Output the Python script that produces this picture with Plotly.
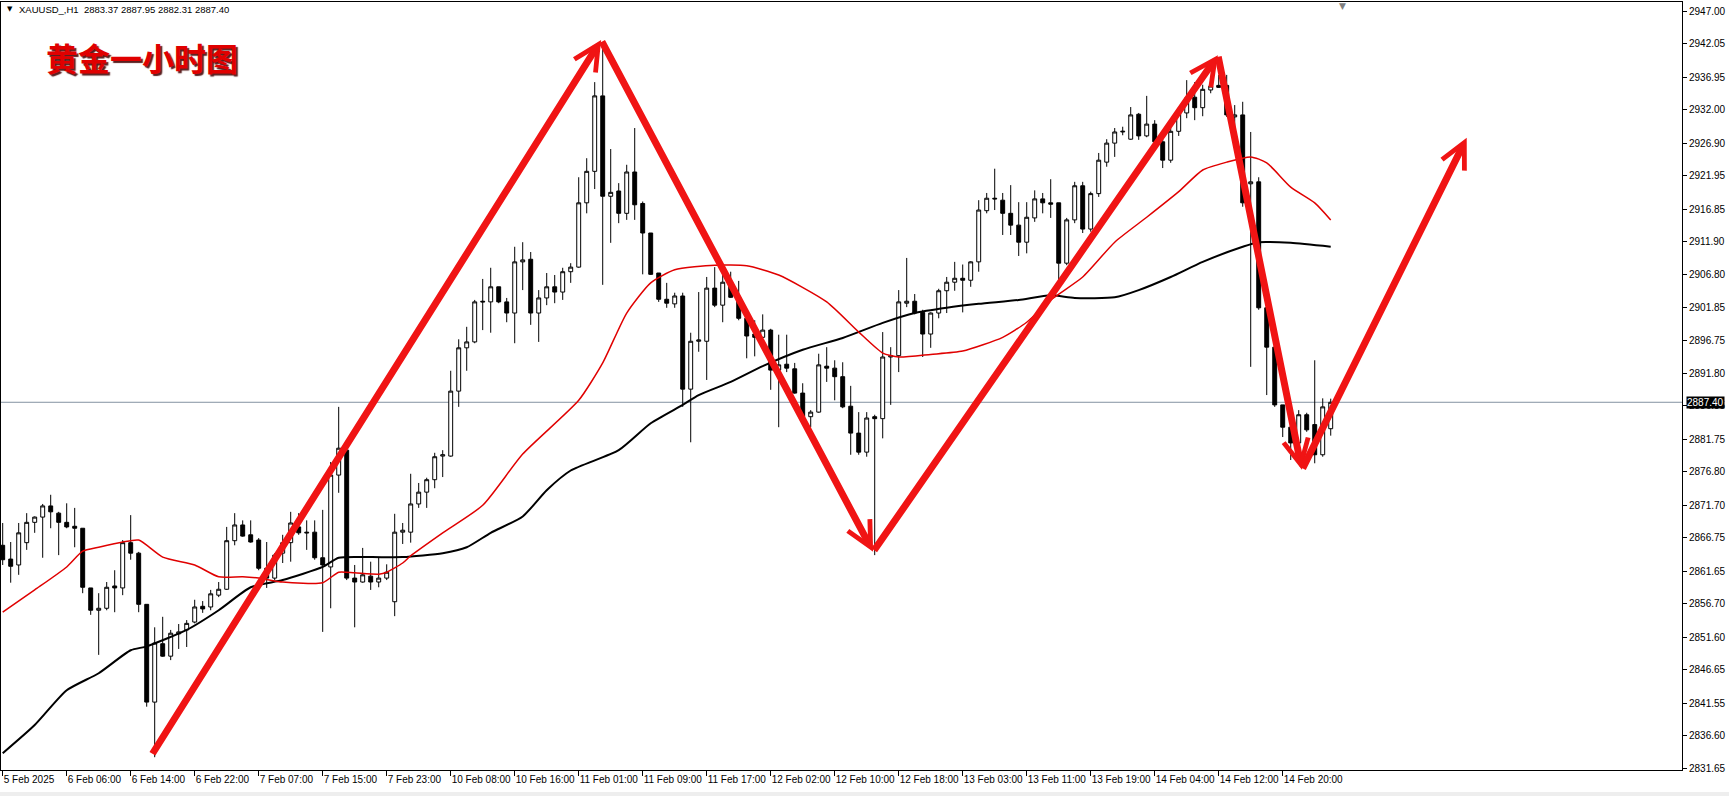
import plotly.graph_objects as go

# ---------------- data ----------------
open_ = [
    2865.6, 2863.5, 2862.6, 2866.0, 2869.1, 2869.9, 2871.6, 2870.5, 2869.1, 2868.5,
    2868.2, 2859.1, 2855.7, 2856.0, 2859.4, 2859.1, 2866.0, 2864.4, 2856.6, 2841.7,
    2850.6, 2848.7, 2852.1, 2852.7, 2853.9, 2856.3, 2856.2, 2858.0, 2858.9, 2866.3,
    2868.7, 2867.2, 2866.4, 2862.1, 2860.6, 2864.4, 2866.0, 2868.4, 2867.6, 2867.6,
    2863.7, 2862.3, 2876.3, 2880.1, 2860.6, 2860.0, 2860.9, 2860.0, 2860.6, 2857.0,
    2867.6, 2867.6, 2871.9, 2873.7, 2875.6, 2879.2, 2879.2, 2889.1, 2895.7, 2896.6,
    2902.8, 2902.7, 2905.0, 2902.7, 2901.0, 2908.8, 2909.2, 2901.0, 2903.3, 2905.0,
    2904.2, 2907.3, 2908.0, 2917.8, 2922.6, 2934.1, 2918.8, 2919.6, 2916.2, 2922.5,
    2917.7, 2913.2, 2907.1, 2903.1, 2902.4, 2903.6, 2889.4, 2896.7, 2896.7, 2904.8,
    2902.2, 2905.7, 2903.4, 2900.2, 2897.8, 2897.3, 2898.4, 2892.3, 2893.2, 2892.5,
    2888.8, 2885.2, 2885.9, 2892.9, 2892.6, 2891.3, 2886.8, 2882.7, 2879.8, 2885.2,
    2884.9, 2894.3, 2894.5, 2902.5, 2902.8, 2901.1, 2897.8, 2901.0, 2904.4, 2905.7,
    2906.3, 2906.0, 2908.8, 2916.6, 2918.5, 2918.2, 2916.2, 2914.4, 2911.8, 2915.5,
    2918.4, 2917.8, 2917.8, 2908.6, 2915.2, 2920.4, 2913.8, 2919.2, 2924.0, 2926.9,
    2928.6, 2927.5, 2931.3, 2928.0, 2929.8, 2927.1, 2924.3, 2928.7, 2931.5, 2933.9,
    2932.3, 2935.0, 2935.7, 2935.7, 2930.9, 2931.2, 2920.7, 2921.0, 2901.8, 2895.8,
    2887.0, 2883.6, 2881.2, 2885.5, 2884.0, 2879.4, 2883.37]

high = [
    2869.0, 2866.1, 2869.0, 2870.5, 2870.0, 2871.9, 2873.3, 2870.7, 2872.0, 2871.3,
    2868.2, 2859.1, 2858.3, 2860.0, 2861.8, 2866.4, 2870.2, 2864.6, 2856.6, 2853.1,
    2854.7, 2852.7, 2853.6, 2854.2, 2857.3, 2857.1, 2858.8, 2860.0, 2868.4, 2870.5,
    2869.4, 2869.4, 2866.7, 2866.1, 2864.4, 2867.2, 2870.7, 2870.5, 2869.4, 2869.4,
    2871.0, 2878.3, 2886.7, 2880.1, 2862.6, 2865.2, 2863.1, 2863.7, 2862.7, 2870.4,
    2869.0, 2876.5, 2875.1, 2875.9, 2879.7, 2880.1, 2892.2, 2897.0, 2898.9, 2903.0,
    2906.2, 2907.9, 2905.0, 2903.3, 2911.1, 2911.8, 2910.3, 2904.5, 2907.1, 2906.8,
    2907.9, 2908.6, 2921.7, 2924.6, 2936.2, 2941.9, 2926.0, 2920.8, 2923.6, 2929.2,
    2918.0, 2913.2, 2907.1, 2905.6, 2904.1, 2904.1, 2898.0, 2904.2, 2906.5, 2908.0,
    2907.1, 2907.3, 2905.9, 2901.0, 2899.9, 2900.8, 2898.6, 2897.7, 2897.7, 2893.4,
    2890.3, 2886.2, 2894.8, 2895.8, 2893.8, 2893.5, 2889.9, 2885.9, 2885.9, 2885.5,
    2898.1, 2895.8, 2904.5, 2909.4, 2903.9, 2901.5, 2901.1, 2904.7, 2906.5, 2908.8,
    2908.4, 2908.9, 2918.2, 2919.3, 2923.0, 2919.3, 2920.5, 2917.9, 2917.9, 2919.7,
    2919.3, 2921.4, 2917.8, 2915.5, 2921.0, 2921.0, 2919.5, 2925.4, 2927.5, 2929.2,
    2929.4, 2932.4, 2931.5, 2934.1, 2930.4, 2927.7, 2930.4, 2931.9, 2936.5, 2936.2,
    2935.8, 2936.2, 2937.3, 2937.3, 2932.7, 2933.2, 2928.6, 2921.7, 2901.8, 2895.8,
    2887.0, 2883.6, 2886.2, 2885.8, 2893.8, 2888.0, 2887.95]

low = [
    2862.6, 2859.9, 2861.1, 2864.9, 2867.5, 2863.7, 2868.2, 2864.1, 2868.2, 2865.3,
    2858.3, 2855.0, 2848.9, 2855.7, 2855.4, 2858.0, 2863.4, 2855.4, 2841.0, 2833.3,
    2848.6, 2848.1, 2849.8, 2850.1, 2853.7, 2855.3, 2855.7, 2857.7, 2858.8, 2865.6,
    2866.9, 2866.0, 2861.8, 2859.1, 2860.3, 2862.9, 2863.1, 2867.2, 2864.9, 2863.4,
    2852.4, 2856.0, 2873.6, 2860.3, 2853.1, 2859.9, 2858.8, 2859.2, 2860.3, 2854.8,
    2865.8, 2866.0, 2871.3, 2871.3, 2874.3, 2876.0, 2879.1, 2886.7, 2892.2, 2896.4,
    2898.4, 2898.0, 2902.5, 2899.6, 2896.4, 2904.5, 2899.2, 2896.6, 2902.2, 2902.5,
    2903.0, 2905.6, 2907.9, 2916.2, 2919.9, 2905.3, 2911.7, 2914.7, 2915.2, 2915.2,
    2906.9, 2906.8, 2902.7, 2901.8, 2901.8, 2886.7, 2881.3, 2895.1, 2890.8, 2901.9,
    2899.6, 2903.3, 2899.9, 2894.1, 2894.4, 2897.2, 2889.3, 2883.6, 2892.0, 2888.7,
    2885.0, 2883.6, 2885.8, 2890.5, 2887.7, 2886.5, 2879.4, 2879.4, 2879.1, 2864.1,
    2881.9, 2887.0, 2892.0, 2901.9, 2900.8, 2894.3, 2895.7, 2900.2, 2901.0, 2904.4,
    2901.1, 2905.0, 2907.3, 2916.2, 2916.7, 2912.9, 2912.9, 2909.7, 2910.1, 2914.9,
    2916.2, 2915.5, 2906.0, 2908.3, 2914.7, 2913.2, 2913.4, 2918.7, 2923.3, 2924.8,
    2928.1, 2927.4, 2927.4, 2927.8, 2926.9, 2923.1, 2923.9, 2928.0, 2930.7, 2930.4,
    2931.0, 2934.5, 2935.3, 2930.9, 2928.9, 2917.2, 2892.8, 2901.5, 2888.5, 2886.7,
    2882.1, 2878.6, 2879.7, 2882.9, 2878.1, 2879.1, 2882.31]

close = [
    2863.4, 2862.4, 2867.5, 2869.1, 2869.9, 2871.6, 2870.7, 2869.1, 2868.4, 2868.2,
    2859.2, 2855.7, 2856.0, 2859.2, 2859.1, 2866.0, 2864.4, 2856.6, 2841.7, 2850.7,
    2848.7, 2852.2, 2852.4, 2853.7, 2856.2, 2855.9, 2858.2, 2858.9, 2866.3, 2868.7,
    2867.0, 2866.1, 2862.1, 2860.6, 2864.1, 2866.0, 2869.0, 2867.5, 2867.5, 2863.7,
    2862.6, 2876.3, 2880.4, 2860.6, 2860.0, 2861.1, 2860.0, 2860.6, 2861.5, 2867.6,
    2867.9, 2871.9, 2873.7, 2875.6, 2879.1, 2879.4, 2889.1, 2895.7, 2896.6, 2902.7,
    2902.7, 2905.0, 2902.7, 2901.0, 2908.8, 2909.1, 2901.0, 2903.3, 2905.0, 2904.2,
    2907.3, 2908.0, 2917.8, 2922.6, 2934.1, 2918.8, 2919.4, 2916.2, 2922.5, 2917.5,
    2913.2, 2906.9, 2903.1, 2902.5, 2903.6, 2889.4, 2896.7, 2896.9, 2904.8, 2902.2,
    2905.7, 2903.4, 2900.2, 2897.5, 2897.3, 2898.4, 2892.3, 2893.1, 2892.6, 2888.8,
    2885.2, 2885.9, 2893.1, 2892.6, 2891.3, 2886.7, 2882.7, 2879.8, 2885.0, 2884.9,
    2894.3, 2894.5, 2902.7, 2902.8, 2901.0, 2897.8, 2901.0, 2904.4, 2905.7, 2906.3,
    2906.0, 2908.8, 2916.7, 2918.5, 2918.4, 2916.2, 2914.4, 2911.8, 2915.6, 2918.4,
    2917.8, 2917.6, 2908.6, 2915.2, 2920.4, 2913.8, 2919.2, 2924.3, 2926.9, 2928.6,
    2928.7, 2931.2, 2928.0, 2929.8, 2927.1, 2924.3, 2928.7, 2931.6, 2933.8, 2932.3,
    2935.1, 2935.6, 2935.4, 2931.2, 2931.2, 2917.8, 2921.0, 2901.8, 2895.8, 2887.0,
    2883.6, 2881.2, 2885.5, 2883.2, 2879.4, 2886.7, 2887.40]

bars = list(range(len(close)))

# moving averages (values read at selected bars)
red_ma_bars = [0, 4, 8, 10, 12, 15, 17, 20, 24, 27, 30, 32, 35, 40, 42, 44, 47, 48, 50, 51,
               55, 60, 65, 72, 75, 78, 81, 84, 89, 93, 97, 103, 107, 110, 112, 116, 120, 125,
               128, 131, 135, 139, 143, 147, 150, 153, 156, 158, 161, 164, 166]
red_ma = [2855.4, 2858.8, 2862.3, 2864.7, 2865.3, 2866.1, 2866.4, 2863.8, 2862.6, 2860.8,
          2860.8, 2860.6, 2860.0, 2859.9, 2861.5, 2861.4, 2861.2, 2861.5, 2862.9, 2864.0,
          2867.5, 2871.7, 2879.5, 2887.7, 2893.4, 2901.0, 2905.6, 2907.6, 2908.3, 2908.2,
          2906.8, 2902.7, 2898.1, 2894.9, 2894.3, 2894.7, 2895.2, 2897.3, 2899.6, 2903.0,
          2906.5, 2911.8, 2915.6, 2919.5, 2922.8, 2924.0, 2924.8, 2923.9, 2920.2, 2917.8,
          2915.2]

black_ma_bars = [0, 4, 8, 12, 16, 18, 23, 27, 31, 35, 40, 42, 46, 50, 55, 58, 61, 65, 68,
                 71, 77, 81, 85, 87, 91, 95, 100, 105, 110, 114, 118, 122, 127, 131, 134,
                 139, 142, 146, 150, 155, 157, 161, 166]
black_ma = [2833.9, 2838.2, 2843.5, 2846.1, 2849.6, 2850.2, 2852.7, 2855.7, 2859.2, 2860.3,
            2862.3, 2863.7, 2863.8, 2863.8, 2864.4, 2865.3, 2867.5, 2870.0, 2874.0, 2877.0,
            2880.1, 2884.2, 2887.0, 2888.5, 2890.5, 2892.9, 2895.4, 2897.2, 2899.5, 2901.0,
            2901.8, 2902.4, 2903.0, 2903.7, 2903.3, 2903.4, 2904.5, 2906.5, 2908.8, 2911.1,
            2911.8, 2911.7, 2911.1]

# hand-drawn zig-zag arrows (bar, price)
arrow_bars = [18.6, 74.8, 108.8, 151.9, 162.4, 183.0]
arrow_prices = [2833.6, 2942.6, 2864.6, 2940.3, 2877.1, 2927.7]

# axis ticks
x_tick_bars = [0, 8, 16, 24, 32, 40, 48, 56, 64, 72, 80, 88, 96, 104, 112, 120, 128, 136, 144, 152, 160]
x_tick_labels = ["5 Feb 2025", "6 Feb 06:00", "6 Feb 14:00", "6 Feb 22:00", "7 Feb 07:00",
                 "7 Feb 15:00", "7 Feb 23:00", "10 Feb 08:00", "10 Feb 16:00", "11 Feb 01:00",
                 "11 Feb 09:00", "11 Feb 17:00", "12 Feb 02:00", "12 Feb 10:00", "12 Feb 18:00",
                 "13 Feb 03:00", "13 Feb 11:00", "13 Feb 19:00", "14 Feb 04:00", "14 Feb 12:00",
                 "14 Feb 20:00"]
y_ticks = [2947.00, 2942.05, 2936.95, 2932.00, 2926.90, 2921.95, 2916.85, 2911.90, 2906.80,
           2901.85, 2896.75, 2891.80, 2886.85, 2881.75, 2876.80, 2871.70, 2866.75, 2861.65,
           2856.70, 2851.60, 2846.65, 2841.55, 2836.60, 2831.65]

symbol = "XAUUSD_,H1"
title_cn = "黄金一小时图"
shift_marker_bar = 167.5

# ---------------- figure ----------------
FONT = "Liberation Sans, Arial, sans-serif"
fig = go.Figure()

fig.add_trace(go.Scatter(x=black_ma_bars, y=black_ma, mode="lines",
                         line=dict(color="black", width=2, shape="spline", smoothing=0.6),
                         hoverinfo="skip", showlegend=False))
fig.add_trace(go.Scatter(x=red_ma_bars, y=red_ma, mode="lines",
                         line=dict(color="#e00000", width=1.5, shape="spline", smoothing=0.6),
                         hoverinfo="skip", showlegend=False))
fig.add_trace(go.Candlestick(
    x=bars, open=open_, high=high, low=low, close=close,
    increasing=dict(line=dict(color="black", width=1), fillcolor="white"),
    decreasing=dict(line=dict(color="black", width=1), fillcolor="black"),
    whiskerwidth=0, hoverinfo="skip", showlegend=False))

# current price line
fig.add_shape(type="line", xref="paper", x0=0, x1=1, yref="y",
              y0=close[-1], y1=close[-1], line=dict(color="#8492a2", width=1), layer="below")

annotations = []
for i in range(len(arrow_bars) - 1):
    annotations.append(dict(
        x=arrow_bars[i + 1], y=arrow_prices[i + 1], ax=arrow_bars[i], ay=arrow_prices[i],
        xref="x", yref="y", axref="x", ayref="y", showarrow=True, text="",
        arrowhead=5, arrowsize=0.7, arrowwidth=7, arrowcolor="#f01414", standoff=0))

annotations += [
    dict(text=title_cn, xref="paper", yref="paper", x=0.0255, y=0.929, xanchor="left",
         yanchor="middle", showarrow=False,
         font=dict(family="Noto Sans CJK SC", size=32, color="#e00000", weight="bold",
                   shadow="2px 2px 1px #5a2020")),
    dict(text="▼", xref="paper", yref="paper", x=0.0025, y=0.9905, xanchor="left",
         yanchor="middle", showarrow=False, font=dict(family="DejaVu Sans", size=7, color="black")),
    dict(text=f"{symbol}  {open_[-1]:.2f} {high[-1]:.2f} {low[-1]:.2f} {close[-1]:.2f}",
         xref="paper", yref="paper", x=0.0095, y=0.9905, xanchor="left", yanchor="middle",
         showarrow=False, font=dict(family=FONT, size=9.5, color="black")),
    dict(text=f"{close[-1]:.2f}", xref="paper", yref="y", x=1, y=close[-1], xanchor="left",
         yanchor="middle", xshift=4, showarrow=False, bgcolor="black", borderpad=0,
         font=dict(family=FONT, size=10, color="white")),
    dict(text="▼", xref="x", yref="paper", x=shift_marker_bar, y=1.004, xanchor="center",
         yanchor="top", showarrow=False, font=dict(family="DejaVu Sans", size=9, color="#808080")),
]

# bottom grey strip
fig.add_shape(type="rect", xref="paper", yref="paper", x0=-0.01, x1=1.03,
              y0=-0.0286, y1=-0.04, fillcolor="#eeeeee", line=dict(width=0), layer="below")

fig.update_layout(
    width=1729, height=796,
    margin=dict(l=1, r=47, t=2, b=26, autoexpand=False),
    paper_bgcolor="white", plot_bgcolor="white",
    font=dict(family=FONT, size=10, color="black"),
    hovermode=False, showlegend=False,
    annotations=annotations,
    xaxis=dict(range=[-0.2125, 209.91], tickmode="array", tickvals=x_tick_bars,
               ticktext=x_tick_labels, ticks="outside", ticklen=5, tickcolor="black",
               tickangle=0, automargin=False,
               ticklabelposition="outside right", showgrid=False, zeroline=False,
               showline=True, mirror=True, linecolor="black", linewidth=1,
               rangeslider=dict(visible=False), fixedrange=True),
    yaxis=dict(side="right", range=[2831.35, 2948.41], tickmode="array", tickvals=y_ticks,
               ticktext=[f"{v:.2f}" for v in y_ticks], ticks="outside", ticklen=4,
               tickcolor="black", showgrid=False, zeroline=False, showline=True, mirror=True,
               automargin=False, ticklabeloverflow="allow",
               linecolor="black", linewidth=1, fixedrange=True),
)

fig.write_html("out.html", config={"displayModeBar": False, "staticPlot": True},
               post_script="document.body.style.margin='0';")
